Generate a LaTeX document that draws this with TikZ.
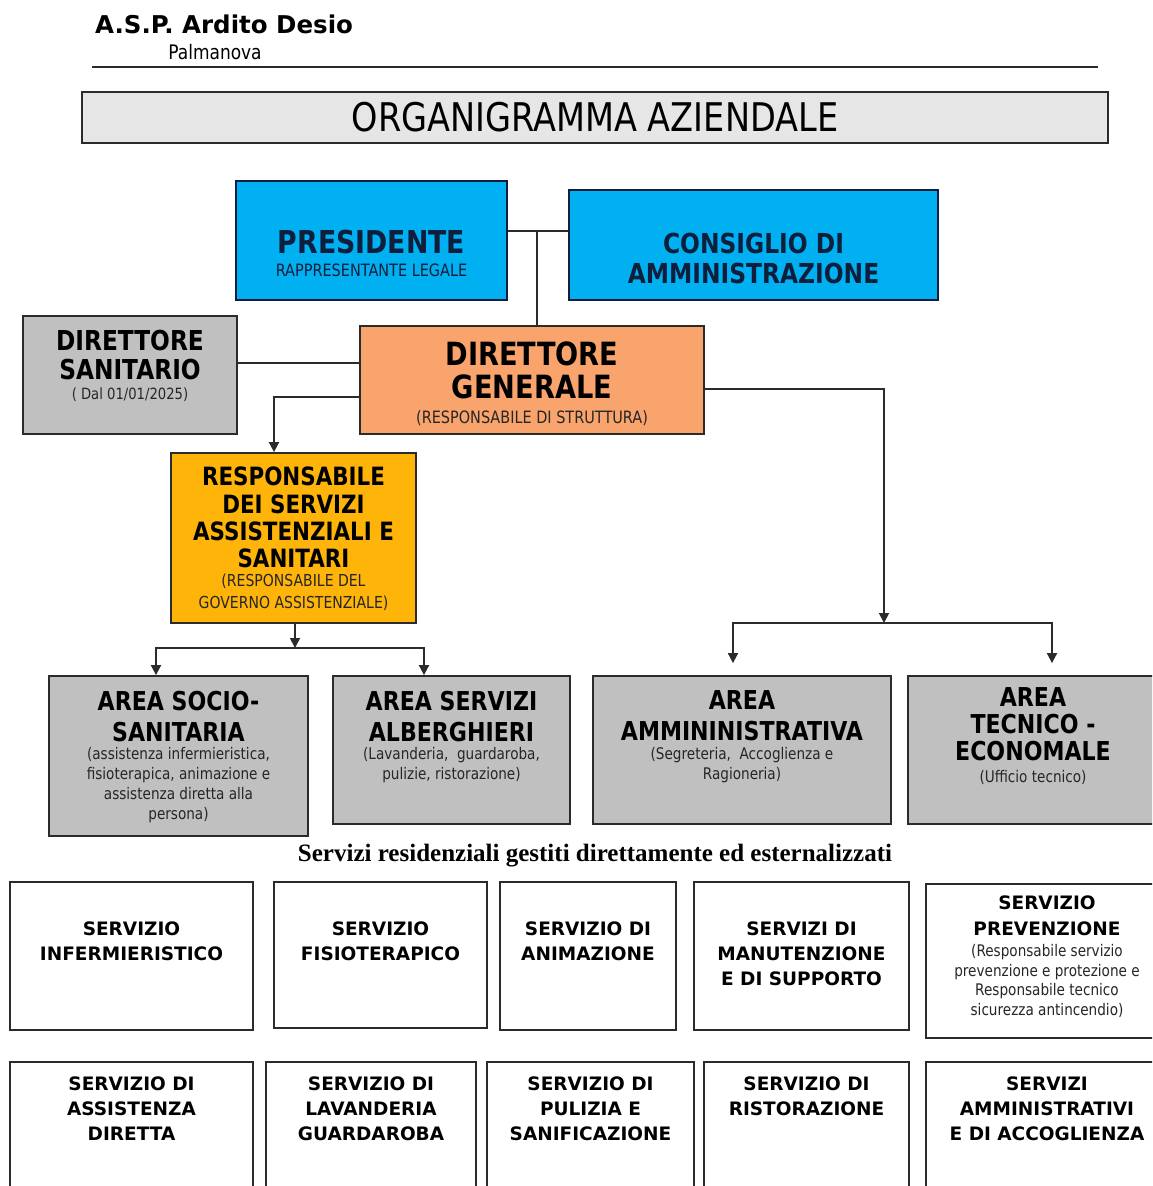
\documentclass[tikz,border=0pt]{standalone}
\usepackage{fontspec}
\setmainfont{DejaVu Sans}
\newfontfamily\tah[FakeStretch=0.85]{DejaVu Sans}
\newfontfamily\verd{DejaVu Sans}
\newfontfamily\tms{Liberation Serif}
\usetikzlibrary{arrows.meta}
\newcommand\myfs[2]{\fontsize{#1}{#2}\selectfont}
\definecolor{cblue}{HTML}{00B0F0}
\definecolor{corange}{HTML}{F9A46D}
\definecolor{camber}{HTML}{FFB40A}
\definecolor{cgray}{HTML}{C0C0C0}
\definecolor{ctitle}{HTML}{E6E6E6}
\definecolor{cline}{HTML}{2B2B2B}
\definecolor{cnavy}{HTML}{0F1E3C}
\definecolor{csub}{HTML}{262626}
\begin{document}
\begin{tikzpicture}[x=1pt,y=-1pt,
  box/.style={draw=cline, line width=1.8pt, rectangle, inner sep=0pt},
  txt/.style={inner sep=0pt, anchor=north, align=center},
  ttl/.style={txt, font=\tah\bfseries\myfs{26}{31}},
  sub/.style={txt, font=\tah\myfs{16}{20}, text=csub},
  btxt/.style={txt, font=\verd\bfseries\myfs{18.5}{24.7}},
  conn/.style={draw=cline, line width=1.8pt},
  witharrow/.style={-{Triangle[width=10pt,length=10pt]}}]
\path[use as bounding box] (0,0) rectangle (1152,1186);
\clip (0,0) rectangle (1152,1186);
\fill[white] (0,0) rectangle (1152,1186);

% header
\node[anchor=base west, inner sep=0pt, font=\verd\bfseries\myfs{24.5}{28}] (asp) at (95,33) {A.S.P. Ardito Desio};
\node[anchor=base, inner sep=0pt, font=\tah\myfs{20}{24}] (palm) at (215,59) {Palmanova};
\draw[line width=2pt, cline] (92,67) -- (1098,67);

% title
\node[box, fill=ctitle, minimum width=1026, minimum height=51, font=\tah\myfs{39.5}{44}] (title) at (595,117.5) {ORGANIGRAMMA AZIENDALE};

% top boxes
\node[box, draw=cnavy, fill=cblue, minimum width=271, minimum height=119] (pres) at (371.5,240.5) {};
\node[box, draw=cnavy, fill=cblue, minimum width=369, minimum height=110] (cons) at (753.5,245) {};
\node[box, fill=corange, minimum width=344, minimum height=108] (dg) at (532,380) {};
\node[box, fill=cgray, minimum width=214, minimum height=118] (ds) at (130,375) {};
\node[box, fill=camber, minimum width=245, minimum height=170] (rsa) at (293.5,538) {};

% area boxes
\node[box, fill=cgray, minimum width=259, minimum height=160] (soc) at (178.5,756) {};
\node[box, fill=cgray, minimum width=237, minimum height=148] (alb) at (451.5,750) {};
\node[box, fill=cgray, minimum width=298, minimum height=148] (amm) at (742,750) {};
\node[box, fill=cgray, minimum width=250, minimum height=148] (tec) at (1033,750) {};

% service boxes row 1
\node[box, minimum width=243, minimum height=148] (s1) at (131.5,956) {};
\node[box, minimum width=213, minimum height=146] (s2) at (380.5,955) {};
\node[box, minimum width=176, minimum height=148] (s3) at (588,956) {};
\node[box, minimum width=215, minimum height=148] (s4) at (801.5,956) {};
\node[box, minimum width=242, minimum height=154] (s5) at (1047,961) {};
% service boxes row 2
\node[box, minimum width=243, minimum height=158] (t1) at (131.5,1141) {};
\node[box, minimum width=210, minimum height=158] (t2) at (371,1141) {};
\node[box, minimum width=207, minimum height=158] (t3) at (590.5,1141) {};
\node[box, minimum width=205, minimum height=158] (t4) at (806.5,1141) {};
\node[box, minimum width=242, minimum height=158] (t5) at (1047,1141) {};

% texts
\node[txt, font=\tah\bfseries\myfs{31.5}{34}, text=cnavy] (presT) at (371.5,229.5) {PRESIDENTE};
\node[txt, font=\tah\myfs{17}{20}, text=cnavy] (presS) at (371.5,264) {RAPPRESENTANTE LEGALE};
\node[txt, font=\tah\bfseries\myfs{27.5}{30}, text=cnavy] (consT) at (753.5,233) {CONSIGLIO DI\\AMMINISTRAZIONE};
\node[txt, font=\tah\bfseries\myfs{32}{33}] (dgT) at (532,342) {DIRETTORE\\GENERALE};
\node[txt, font=\tah\myfs{17}{20}, text=csub] (dgS) at (532,410) {(RESPONSABILE DI STRUTTURA)};
\node[txt, font=\tah\bfseries\myfs{27.4}{29}] (dsT) at (130,330) {DIRETTORE\\SANITARIO};
\node[txt, font=\tah\myfs{15.5}{19}, text=csub] (dsS) at (130,388) {( Dal 01/01/2025)};
\node[txt, font=\tah\bfseries\myfs{25.2}{27.3}] (rsaT) at (293.5,467) {RESPONSABILE\\DEI SERVIZI\\ASSISTENZIALI E\\SANITARI};
\node[txt, font=\tah\myfs{16.5}{22}, text=csub] (rsaS) at (293.5,574) {(RESPONSABILE DEL\\GOVERNO ASSISTENZIALE)};

\node[ttl] (socT) at (178.5,690.5) {AREA SOCIO-\\SANITARIA};
\node[sub] (socS) at (178.5,747) {(assistenza infermieristica,\\fisioterapica, animazione e\\assistenza diretta alla\\persona)};
\node[ttl] (albT) at (451.5,690.5) {AREA SERVIZI\\ALBERGHIERI};
\node[sub] (albS) at (451.5,747) {(Lavanderia,~ guardaroba,\\pulizie, ristorazione)};
\node[ttl] (ammT) at (742,690.5) {AREA\\AMMININISTRATIVA};
\node[sub] (ammS) at (742,747) {(Segreteria,~ Accoglienza e\\Ragioneria)};
\node[ttl, font=\tah\bfseries\myfs{26}{27}] (tecT) at (1033,687.5) {AREA\\TECNICO -\\ECONOMALE};
\node[sub] (tecS) at (1033,770) {(Ufficio tecnico)};

\node[anchor=base, inner sep=0pt, font=\tms\bfseries\myfs{25}{30}] (caption) at (595,861) {Servizi residenziali gestiti direttamente ed esternalizzati};

\node[btxt] (s1T) at (131.5,922) {SERVIZIO\\INFERMIERISTICO};
\node[btxt] (s2T) at (380.5,922) {SERVIZIO\\FISIOTERAPICO};
\node[btxt] (s3T) at (588,922) {SERVIZIO DI\\ANIMAZIONE};
\node[btxt] (s4T) at (801.5,922) {SERVIZI DI\\MANUTENZIONE\\E DI SUPPORTO};
\node[btxt, font=\verd\bfseries\myfs{18.5}{26}] (s5T) at (1047,896) {SERVIZIO\\PREVENZIONE};
\node[sub, font=\tah\myfs{16}{19.7}] (s5S) at (1047,944) {(Responsabile servizio\\prevenzione e protezione e\\Responsabile tecnico\\sicurezza antincendio)};
\node[btxt] (t1T) at (131.5,1077) {SERVIZIO DI\\ASSISTENZA\\DIRETTA};
\node[btxt] (t2T) at (371,1077) {SERVIZIO DI\\LAVANDERIA\\GUARDAROBA};
\node[btxt] (t3T) at (590.5,1077) {SERVIZIO DI\\PULIZIA E\\SANIFICAZIONE};
\node[btxt] (t4T) at (806.5,1077) {SERVIZIO DI\\RISTORAZIONE};
\node[btxt] (t5T) at (1047,1077) {SERVIZI\\AMMINISTRATIVI\\E DI ACCOGLIENZA};

% connectors
\coordinate (j1) at (537,231);
\draw[conn] (pres.east |- j1) -- (cons.west |- j1);
\draw[conn] (j1) -- (j1 |- dg.north);
\coordinate (j2) at (300,363);
\draw[conn] (ds.east |- j2) -- (dg.west |- j2);
\coordinate (j3) at (274,397);
\draw[conn, witharrow] (dg.west |- j3) -| (rsa.north -| j3);
\coordinate (j4) at (884,389);
\coordinate (b2) at (884,623);
\draw[conn, witharrow] (dg.east |- j4) -| (b2);
\coordinate (xa) at (733,0);
\coordinate (xb) at (1052,0);
\draw[conn, witharrow, shorten >=12pt] (b2) -| (amm.north -| xa);
\draw[conn, witharrow, shorten >=12pt] (b2) -| (tec.north -| xb);
\coordinate (b1) at (295,648);
\draw[conn, witharrow] (rsa.south -| b1) -- (b1);
\coordinate (xc) at (156,0);
\coordinate (xd) at (424,0);
\draw[conn, witharrow] (b1) -| (soc.north -| xc);
\draw[conn, witharrow] (b1) -| (alb.north -| xd);
\end{tikzpicture}
\end{document}
